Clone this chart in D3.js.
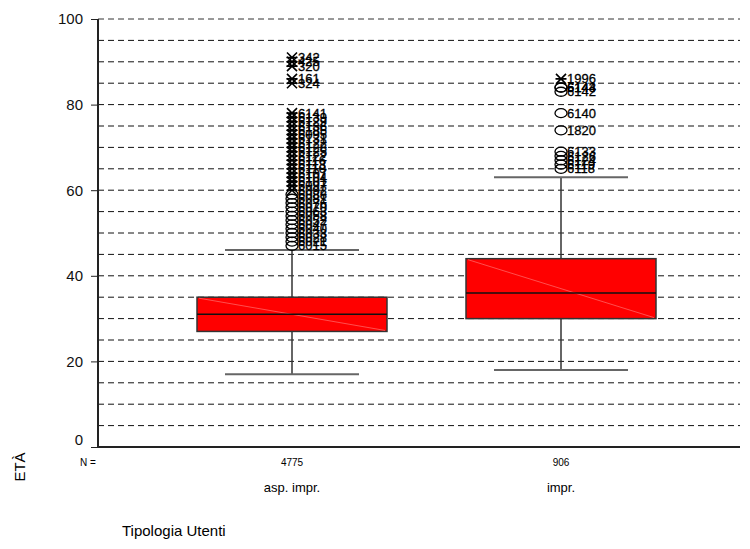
<!DOCTYPE html>
<html>
<head>
<meta charset="utf-8">
<script src="https://cdn.jsdelivr.net/npm/d3@7"></script>
<style>
  body { margin: 0; background: #fff; }
  text { font-family: "Liberation Sans", Arial, sans-serif; }
</style>
</head>
<body>
<div id="chart-container"></div>
<script>
// categories and box statistics
const categories = ["asp. impr.", "impr."];
const counts = [4775, 906];
const whiskerLow = [17, 18];
const q1 = [27, 30];
const median = [31, 36];
const q3 = [35, 44];
const whiskerHigh = [46, 63];

// outliers: [value, case label, kind] ; "o" = outlier, "x" = extreme
const outliersAsp = [
  [47, "6015", "o"], [48, "6021", "o"], [49, "6028", "o"], [50, "6033", "o"],
  [51, "6040", "o"], [52, "6047", "o"], [53, "6052", "o"], [54, "6058", "o"],
  [55, "6063", "o"], [56, "6070", "o"], [57, "6076", "o"], [58, "6081", "o"],
  [59, "6088", "o"],
  [60, "6092", "x"], [61, "6097", "x"], [62, "6101", "x"], [63, "6104", "x"],
  [64, "6107", "x"], [65, "6110", "x"], [66, "6113", "x"], [67, "6116", "x"],
  [68, "6122", "x"], [69, "6125", "x"], [70, "6128", "x"], [71, "6122", "x"],
  [72, "6131", "x"], [73, "6095", "x"], [74, "6185", "x"], [75, "6136", "x"],
  [76, "6129", "x"], [77, "6139", "x"], [78, "6141", "x"],
  [85, "324", "x"], [86, "161", "x"], [89, "320", "x"], [90, "425", "x"], [91, "342", "x"]
];
const outliersImpr = [
  [65, "6118", "o"], [66, "6119", "o"], [67, "6124", "o"], [68, "6126", "o"],
  [69, "6133", "o"], [74, "1820", "o"], [78, "6140", "o"], [83, "6142", "o"],
  [84, "6143", "o"], [84, "6144", "o"], [86, "1996", "x"]
];
const outliers = [outliersAsp, outliersImpr];

const yTicks = [0, 20, 40, 60, 80, 100];
const gridValues = d3.range(5, 101, 5);

const W = 750, H = 549;
const m = { left: 98, right: 740, top: 19, bottom: 447 };

const svg = d3.select("#chart-container")
  .append("svg")
  .attr("width", W)
  .attr("height", H);

const y = d3.scaleLinear().domain([0, 100]).range([m.bottom, m.top]);
const x = d3.scalePoint().domain(categories).range([292, 561]);

const boxHalf = 95;
const capHalf = 67;

// dashed gridlines
svg.append("g")
  .selectAll("line")
  .data(gridValues)
  .join("line")
  .attr("x1", m.left)
  .attr("x2", m.right)
  .attr("y1", d => y(d))
  .attr("y2", d => y(d))
  .attr("stroke", d => d === 100 ? "#333" : "#111")
  .attr("stroke-width", 1)
  .attr("stroke-dasharray", "6,4");

// y axis
const yAxis = svg.append("g")
  .attr("transform", `translate(${m.left},0)`)
  .call(d3.axisLeft(y).tickValues(yTicks).tickSize(7).tickPadding(8).tickFormat(d3.format("d")));
yAxis.select(".domain").remove();
yAxis.selectAll(".tick line").attr("stroke", "#222");
yAxis.selectAll(".tick text")
  .attr("font-size", 15)
  .attr("fill", "#111")
  .attr("font-family", "Liberation Sans, Arial, sans-serif")
  .attr("dy", d => d === 0 ? "-0.2em" : "0.32em");

svg.append("line")
  .attr("x1", m.left).attr("x2", m.left)
  .attr("y1", m.top).attr("y2", m.bottom + 1)
  .attr("stroke", "#222").attr("stroke-width", 2);
svg.append("line")
  .attr("x1", m.left).attr("x2", m.right)
  .attr("y1", m.bottom).attr("y2", m.bottom)
  .attr("stroke", "#222").attr("stroke-width", 2);

// boxes
const boxes = svg.append("g");
categories.forEach((c, i) => {
  const cx = x(c);
  const g = boxes.append("g");
  // whiskers
  g.append("line")
    .attr("x1", cx).attr("x2", cx)
    .attr("y1", y(whiskerHigh[i])).attr("y2", y(q3[i]))
    .attr("stroke", "#333").attr("stroke-width", 1.5);
  g.append("line")
    .attr("x1", cx).attr("x2", cx)
    .attr("y1", y(q1[i])).attr("y2", y(whiskerLow[i]))
    .attr("stroke", "#333").attr("stroke-width", 1.5);
  [whiskerLow[i], whiskerHigh[i]].forEach(v => {
    g.append("line")
      .attr("x1", cx - capHalf).attr("x2", cx + capHalf)
      .attr("y1", y(v)).attr("y2", y(v))
      .attr("stroke", "#666").attr("stroke-width", 2);
  });
  g.append("rect")
    .attr("x", cx - boxHalf)
    .attr("y", y(q3[i]))
    .attr("width", boxHalf * 2)
    .attr("height", y(q1[i]) - y(q3[i]))
    .attr("fill", "#ff0000")
    .attr("stroke", "#333")
    .attr("stroke-width", 1.5);
  // faint diagonal seen in the fill
  g.append("line")
    .attr("x1", cx - boxHalf + 2).attr("y1", y(q3[i]) + 1)
    .attr("x2", cx + boxHalf - 2).attr("y2", y(q1[i]) - 1)
    .attr("stroke", "#ff7070").attr("stroke-width", 0.7);
  g.append("line")
    .attr("x1", cx - boxHalf).attr("x2", cx + boxHalf)
    .attr("y1", y(median[i])).attr("y2", y(median[i]))
    .attr("stroke", "#111").attr("stroke-width", 1.5);
});

// outliers and extremes
const marks = svg.append("g");
categories.forEach((c, i) => {
  const cx = x(c);
  outliers[i].forEach(([v, lab, kind]) => {
    const py = y(v);
    if (kind === "o") {
      marks.append("ellipse")
        .attr("cx", cx).attr("cy", py)
        .attr("rx", 6).attr("ry", 4.5)
        .attr("fill", "none")
        .attr("stroke", "#000").attr("stroke-width", 1.3);
    } else {
      const s = 5;
      marks.append("path")
        .attr("d", `M${cx - s},${py - s}L${cx + s},${py + s}M${cx - s},${py + s}L${cx + s},${py - s}M${cx - s - 0.5},${py}L${cx + s + 0.5},${py}`)
        .attr("stroke", "#000").attr("stroke-width", 1.6)
        .attr("fill", "none");
    }
    marks.append("text")
      .attr("x", cx + 6)
      .attr("y", py)
      .attr("dy", "0.35em")
      .attr("font-size", 13)
      .attr("fill", "#000")
      .attr("stroke", "#000")
      .attr("stroke-width", 0.3)
      .text(lab);
  });
});

// N row and category names
svg.append("text")
  .attr("x", 88).attr("y", 466)
  .attr("text-anchor", "middle")
  .attr("font-size", 10)
  .text("N =");
svg.append("g")
  .selectAll("text")
  .data(categories)
  .join("text")
  .attr("x", d => x(d))
  .attr("y", 466)
  .attr("text-anchor", "middle")
  .attr("font-size", 10)
  .text((d, i) => counts[i]);
svg.append("g")
  .selectAll("text")
  .data(categories)
  .join("text")
  .attr("x", d => x(d))
  .attr("y", 492)
  .attr("text-anchor", "middle")
  .attr("font-size", 13)
  .text(d => d);

svg.append("text")
  .attr("x", 122).attr("y", 536)
  .attr("font-size", 15)
  .text("Tipologia Utenti");

svg.append("text")
  .attr("transform", "translate(25,467) rotate(-90)")
  .attr("text-anchor", "middle")
  .attr("font-size", 15)
  .text("ETÀ");
</script>
</body>
</html>
